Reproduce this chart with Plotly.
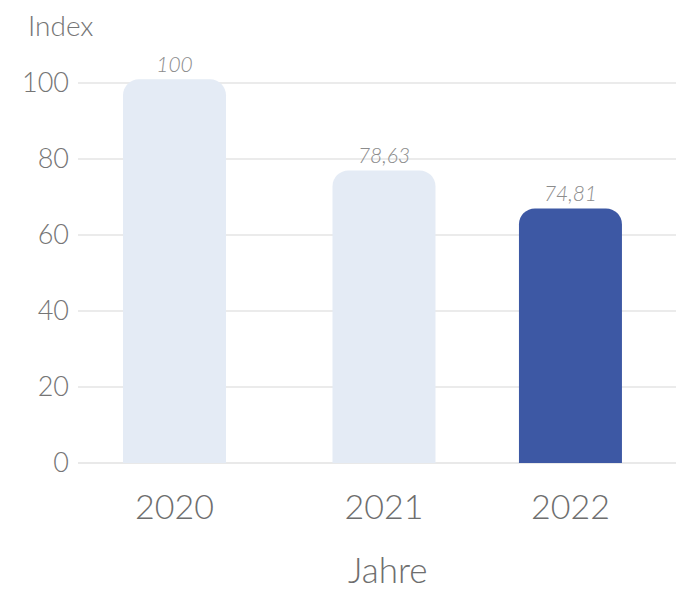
import plotly.graph_objects as go

# ---- data ----
years = ["2020", "2021", "2022"]
bar_values = [101, 77, 67]          # bar heights as drawn
value_labels = ["100", "78,63", "74,81"]
y_ticks = [0, 20, 40, 60, 80, 100]

# ---- layout helpers (positions / styles) ----
slots = [0, 1, 1.89]
colors = ["#e4ebf5", "#e4ebf5", "#3d58a4"]
FONT = "Lato, 'Source Sans Pro', sans-serif"

# page is rendered with an 8px body margin
OFF = 8
W, H = 684 - OFF, 591 - OFF
PL, PR, PT, PB = 78, 684, 64, 463   # plot area in page pixels


def px_x(page_x):
    return (page_x - PL) / (PR - PL)


def px_y(page_y):
    return (PB - page_y) / (PB - PT)


fig = go.Figure(
    go.Bar(
        x=slots,
        y=bar_values,
        width=0.4916,
        marker=dict(color=colors, line=dict(width=0)),
        text=value_labels,
        textposition="outside",
        textfont=dict(family=FONT, size=21, color="#8c8c8c", style="italic", weight=300),
        cliponaxis=False,
        hoverinfo="skip",
    )
)

fig.update_layout(
    width=W,
    height=H,
    margin=dict(l=PL - OFF, r=684 - PR, t=PT - OFF, b=591 - PB),
    plot_bgcolor="white",
    paper_bgcolor="white",
    barcornerradius=16,
    showlegend=False,
    font=dict(family=FONT, color="#757575", weight=300),
)

fig.update_xaxes(
    range=[-0.4606, 2.432],
    tickmode="array",
    tickvals=slots,
    ticktext=years,
    tickfont=dict(family=FONT, size=34, color="#6e6e6e", weight=300),
    showgrid=False,
    zeroline=False,
    showline=False,
    ticks="",
    ticklabelstandoff=21,
)

fig.update_yaxes(
    range=[0, 105],
    tickmode="array",
    tickvals=y_ticks,
    tickfont=dict(family=FONT, size=27, color="#757575", weight=300),
    showgrid=True,
    gridcolor="#ebebeb",
    gridwidth=2,
    zeroline=True,
    zerolinecolor="#e9e9e9",
    zerolinewidth=2,
    showline=False,
    ticks="",
    ticklabelstandoff=8,
)

fig.add_annotation(
    text="Index", xref="paper", yref="paper",
    x=px_x(26), y=px_y(25),
    xanchor="left", yanchor="middle", showarrow=False,
    font=dict(family=FONT, size=28, color="#757575", weight=300),
)
fig.add_annotation(
    text="Jahre", xref="paper", yref="paper",
    x=px_x(388), y=px_y(569),
    xanchor="center", yanchor="middle", showarrow=False,
    font=dict(family=FONT, size=35, color="#6e6e6e", weight=300),
)

fig.write_html("out.html")
